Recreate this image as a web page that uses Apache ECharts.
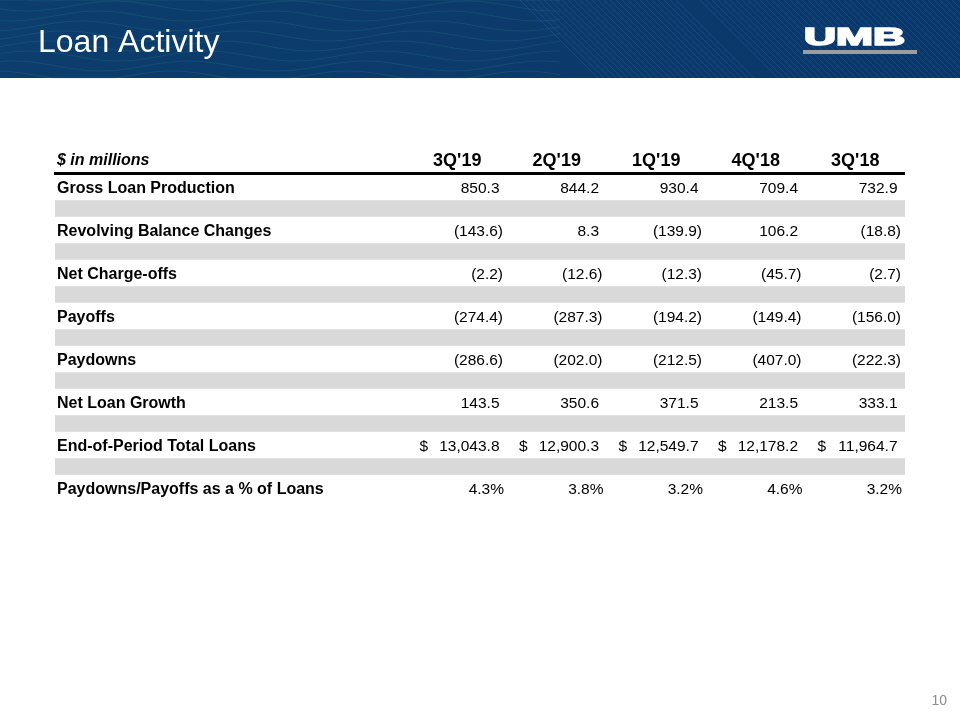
<!DOCTYPE html>
<html>
<head>
<meta charset="utf-8">
<script src="https://cdn.jsdelivr.net/npm/echarts@6/dist/echarts.min.js"></script>
<style>
html,body{margin:0;padding:0;background:#fff;}
#chart{width:960px;height:720px;}
</style>
</head>
<body>
<div id="chart"></div>
<script>
// ---- data ----
var titleText = 'Loan Activity';
var unitLabel = '$ in millions';
var columns = ["3Q'19", "2Q'19", "1Q'19", "4Q'18", "3Q'18"];
var rowLabels = [
  'Gross Loan Production',
  'Revolving Balance Changes',
  'Net Charge-offs',
  'Payoffs',
  'Paydowns',
  'Net Loan Growth',
  'End-of-Period Total Loans',
  'Paydowns/Payoffs as a % of Loans'
];
var rowFormats = ['num', 'num', 'num', 'num', 'num', 'num', 'usd', 'pct'];
var grossLoanProduction = [850.3, 844.2, 930.4, 709.4, 732.9];
var revolvingBalanceChanges = [-143.6, 8.3, -139.9, 106.2, -18.8];
var netChargeOffs = [-2.2, -12.6, -12.3, -45.7, -2.7];
var payoffs = [-274.4, -287.3, -194.2, -149.4, -156.0];
var paydowns = [-286.6, -202.0, -212.5, -407.0, -222.3];
var netLoanGrowth = [143.5, 350.6, 371.5, 213.5, 333.1];
var endOfPeriodTotalLoans = [13043.8, 12900.3, 12549.7, 12178.2, 11964.7];
var paydownsPayoffsPct = [4.3, 3.8, 3.2, 4.6, 3.2];
var pageNumber = '10';

var rowValues = [grossLoanProduction, revolvingBalanceChanges, netChargeOffs, payoffs,
  paydowns, netLoanGrowth, endOfPeriodTotalLoans, paydownsPayoffsPct];

// ---- build slots: data rows separated by grey spacer rows ----
var slotKeys = [];
var cellData = [];
var bandData = [];
var labelData = [];
rowLabels.forEach(function (lab, r) {
  var slot = slotKeys.length;
  slotKeys.push('row' + r);
  labelData.push([0, slot, r]);
  rowValues[r].forEach(function (v, c) {
    cellData.push([c, slot, v, r]);
  });
  if (r < rowLabels.length - 1) {
    slotKeys.push('gap' + r);
    bandData.push([0, slotKeys.length - 1]);
  }
});

var FONT = 'Liberation Sans, Arial, Helvetica, sans-serif';
var LABEL_MARGIN = 352.5;

function fmt1(v) {
  var s = Math.abs(v).toFixed(1);
  var parts = s.split('.');
  parts[0] = parts[0].replace(/\B(?=(\d{3})+(?!\d))/g, ',');
  return parts.join('.');
}

function txt(x, y, text, align) {
  var st = {text: text, fill: '#000', fontSize: 15.5, fontFamily: FONT,
    align: align, verticalAlign: 'middle'};
  return {type: 'text', x: x, y: y, style: st};
}

// ---- banner decorations ----
var deco = [];
deco.push({
  type: 'rect', shape: {x: 0, y: 0, width: 960, height: 78}, z: 0,
  style: {fill: new echarts.graphic.LinearGradient(0, 0, 1, 0, [
    {offset: 0, color: '#0c3d6c'}, {offset: 0.5, color: '#0b3a6b'}, {offset: 1, color: '#0a376a'}])}
});
// wavy lines (left)
for (var w = 0; w < 9; w++) {
  var y0 = -4 + w * 10;
  var pts = [];
  for (var xx = 0; xx <= 560; xx += 5) {
    pts.push([xx, Math.max(0, Math.min(78, y0 + 5 * Math.sin((xx + w * 17) / 28)))]);
  }
  deco.push({type: 'polyline', z: 1, shape: {points: pts},
    style: {fill: null, stroke: '#2f8a84', lineWidth: 0.8, opacity: 0.3}});
}
// diagonal lines (right)
for (var xl = 540; xl < 1000; xl += 6) {
  if (xl > 700 && xl < 720) continue;
  deco.push({type: 'line', z: 1,
    shape: {x1: xl - 20, y1: 0, x2: xl + 58, y2: 78},
    style: {stroke: '#3b73b0', lineWidth: 0.7, opacity: 0.42}});
}
// logo
deco.push({type: 'text', z: 5, x: 804, y: 26, scaleX: 1.85, scaleY: 1,
  style: {text: 'UMB', fill: '#ffffff', stroke: '#ffffff', lineWidth: 1.6,
    fontSize: 24, fontWeight: 'bold', fontFamily: FONT,
    align: 'left', verticalAlign: 'top'}});
deco.push({type: 'rect', z: 5, shape: {x: 803, y: 50, width: 114, height: 4}, style: {fill: '#9b9da0'}});
// header rule
deco.push({type: 'rect', z: 5, shape: {x: 54, y: 172, width: 851, height: 3}, style: {fill: '#000'}});
// unit label
deco.push({type: 'text', z: 5, x: 57, y: 161,
  style: {text: unitLabel, fill: '#000', fontSize: 16, fontStyle: 'italic', fontWeight: 'bold', fontFamily: FONT,
    align: 'left', verticalAlign: 'middle'}});
// page number
deco.push({type: 'text', z: 5, x: 947, y: 701,
  style: {text: pageNumber, fill: '#8c8c8c', fontSize: 14, fontFamily: FONT, align: 'right', verticalAlign: 'middle'}});

var chart = echarts.init(document.getElementById('chart'), null, {renderer: 'canvas'});
chart.setOption({
  backgroundColor: '#ffffff',
  animation: false,
  title: {
    text: titleText, left: 33, top: 22,
    textStyle: {color: '#ffffff', fontSize: 32, fontWeight: 'normal', fontFamily: FONT}
  },
  graphic: deco,
  grid: {left: 407.5, right: 55, top: 176.25, height: 322.5, containLabel: false},
  xAxis: {
    type: 'category', position: 'top', data: columns,
    axisLine: {show: false}, axisTick: {show: false}, splitLine: {show: false},
    axisLabel: {color: '#000', fontSize: 18, fontWeight: 'bold', fontFamily: FONT, margin: 6}
  },
  yAxis: {
    type: 'category', inverse: true, data: slotKeys,
    axisLine: {show: false}, axisTick: {show: false}, splitLine: {show: false},
    axisLabel: {show: false}
  },
  series: [
    {
      type: 'custom', z: 1, silent: true,
      data: bandData,
      renderItem: function (params, api) {
        var cs = params.coordSys;
        var p = api.coord([0, api.value(1)]);
        var h = 16.5;
        return {type: 'rect',
          shape: {x: cs.x - LABEL_MARGIN, y: p[1] - h / 2, width: cs.width + LABEL_MARGIN, height: h},
          style: {fill: '#d9d9d9'}};
      }
    },
    {
      type: 'custom', z: 3, silent: true,
      data: labelData,
      renderItem: function (params, api) {
        var cs = params.coordSys;
        var p = api.coord([0, api.value(1)]);
        return {type: 'text', x: cs.x - LABEL_MARGIN + 2, y: p[1] + 1.5,
          style: {text: rowLabels[api.value(2)], fill: '#000', fontSize: 16, fontWeight: 'bold',
            fontFamily: FONT, align: 'left', verticalAlign: 'middle'}};
      }
    },
    {
      type: 'custom', z: 3, silent: true,
      data: cellData,
      renderItem: function (params, api) {
        var c = api.value(0), slot = api.value(1), v = api.value(2), r = api.value(3);
        var p = api.coord([c, slot]);
        var bw = api.size([1, 0])[0];
        var right = p[0] + bw / 2;
        var y = p[1] + 1.5;
        var f = rowFormats[r];
        var children = [];
        if (f === 'pct') {
          children.push(txt(right - 3, y, v.toFixed(1) + '%', 'right'));
        } else if (f === 'usd') {
          children.push(txt(right - 87.5, y, '$', 'left'));
          children.push(txt(right - 7.5, y, fmt1(v), 'right'));
        } else if (v < 0) {
          children.push(txt(right - 4, y, '(' + fmt1(v) + ')', 'right'));
        } else {
          children.push(txt(right - 7.5, y, fmt1(v), 'right'));
        }
        return {type: 'group', children: children};
      }
    }
  ]
});
</script>
</body>
</html>
